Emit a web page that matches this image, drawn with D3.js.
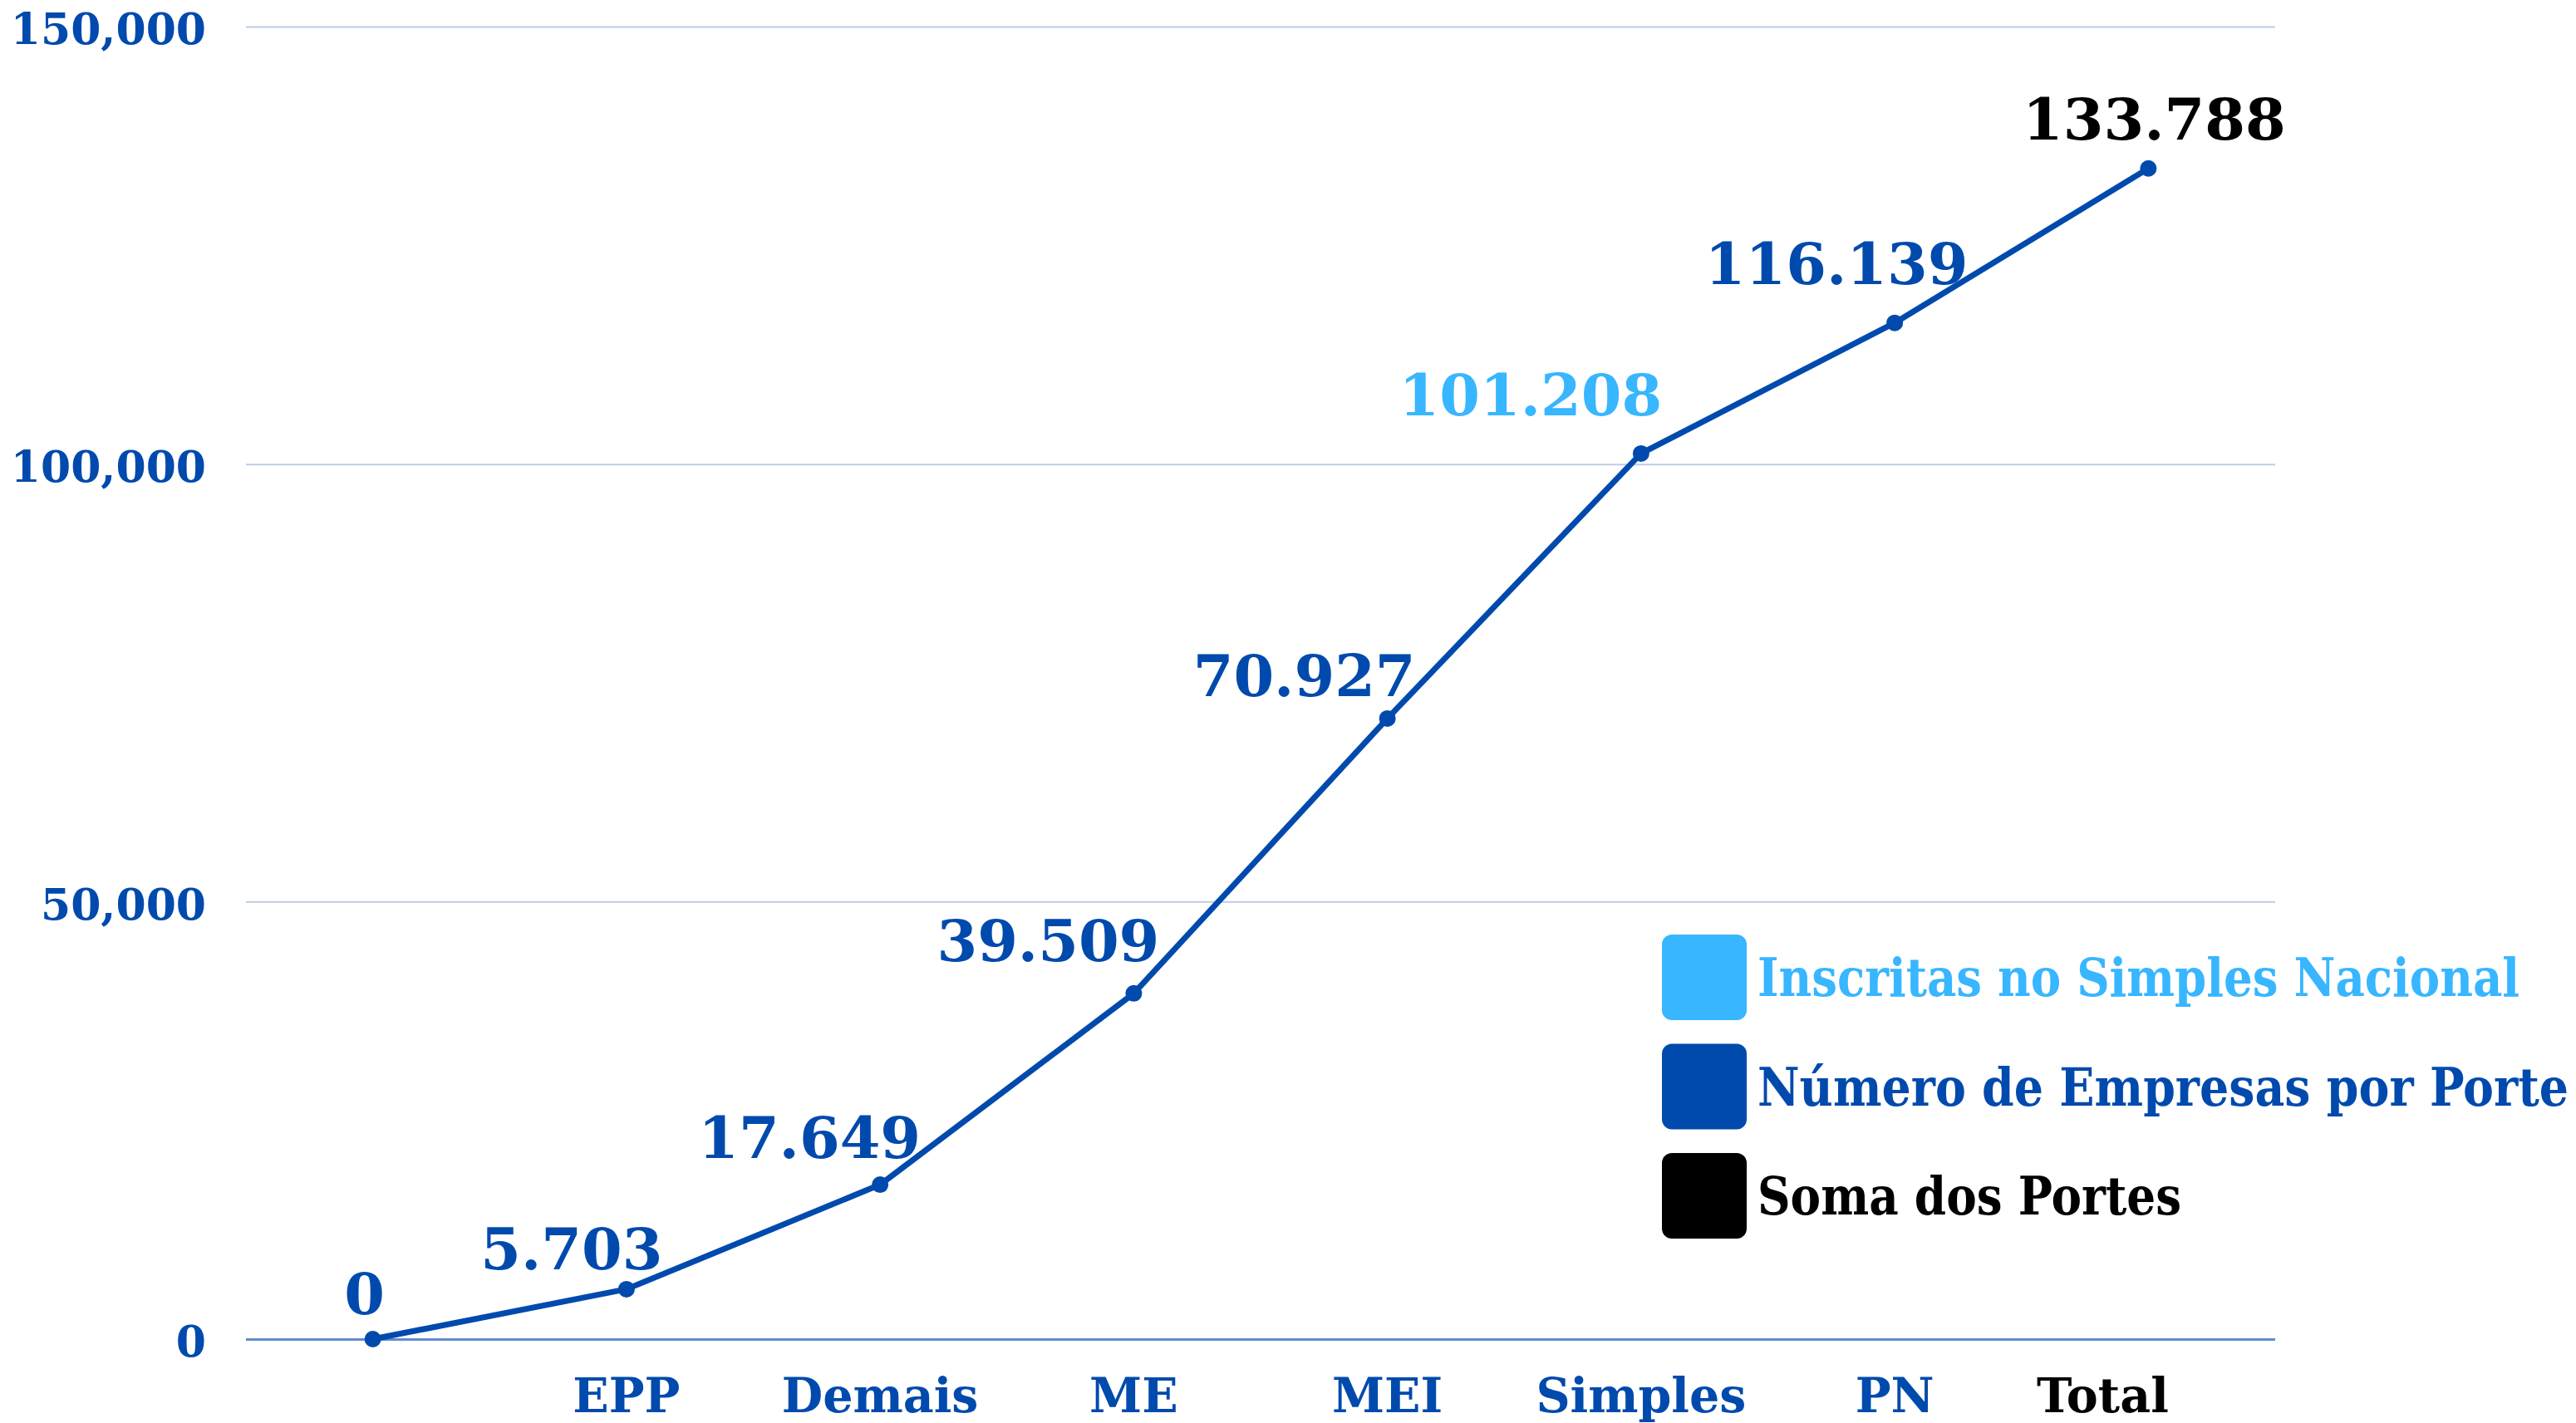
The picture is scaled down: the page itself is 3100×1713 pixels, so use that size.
<!DOCTYPE html>
<html>
<head>
<meta charset="utf-8">
<script src="https://cdn.jsdelivr.net/npm/d3@7"></script>
<style>
  body { margin: 0; background: #fff; }
  svg text { font-family: "DejaVu Serif", serif; font-weight: bold; }
</style>
</head>
<body>
<div id="wrapper"></div>
<script>
// DATA
const categories = ["", "EPP", "Demais", "ME", "MEI", "Simples", "PN", "Total"];
const valueLabels = ["0", "5.703", "17.649", "39.509", "70.927", "101.208", "116.139", "133.788"];
const values = [0, 5703, 17649, 39509, 70927, 101208, 116139, 133788];
const yTicks = [0, 50000, 100000, 150000];
const legendItems = ["Inscritas no Simples Nacional", "Número de Empresas por Porte", "Soma dos Portes"];

// COLOURS
const blue = "#004aad";
const lightBlue = "#38b6ff";
const black = "#000000";
const valueColor = (cat) => (cat === "Simples" ? lightBlue : cat === "Total" ? black : blue);
const axisColor = (cat) => (cat === "Total" ? black : blue);
const legendColors = [lightBlue, blue, black];

// DIMENSIONS
const dimensions = {
  width: 3100,
  height: 1713,
  margin: { top: 32, right: 362, bottom: 101, left: 296 },
};
dimensions.boundedWidth = dimensions.width - dimensions.margin.left - dimensions.margin.right;
dimensions.boundedHeight = dimensions.height - dimensions.margin.top - dimensions.margin.bottom;

const wrapper = d3.select("#wrapper")
  .append("svg")
  .attr("width", dimensions.width)
  .attr("height", dimensions.height);

const bounds = wrapper.append("g")
  .attr("transform", `translate(${dimensions.margin.left},${dimensions.margin.top})`);

// SCALES
const xScale = d3.scaleBand()
  .domain(categories)
  .range([0, dimensions.boundedWidth])
  .padding(0);

const yScale = d3.scaleLinear()
  .domain([0, 150000])
  .range([dimensions.boundedHeight, 0]);

const xPos = (i) => xScale(categories[i]) + xScale.bandwidth() / 2;

// Y AXIS + GRID
const yAxis = bounds.append("g")
  .call(d3.axisLeft(yScale)
    .tickValues(yTicks)
    .tickFormat(d3.format(","))
    .tickSize(-dimensions.boundedWidth)
    .tickPadding(48));
yAxis.select(".domain").remove();
yAxis.selectAll(".tick line")
  .attr("stroke", (d) => (d === 0 ? "#5f8bcb" : "#bccde6"))
  .attr("stroke-width", (d) => (d === 0 ? 3 : 2));
yAxis.selectAll(".tick text")
  .attr("fill", blue)
  .style("font-size", "52px")
  .attr("dy", "0.4em");

// X AXIS
const xAxis = bounds.append("g")
  .attr("transform", `translate(0,${dimensions.boundedHeight})`)
  .call(d3.axisBottom(xScale).tickSize(0).tickPadding(48));
xAxis.select(".domain").remove();
xAxis.selectAll(".tick text")
  .attr("fill", (d) => axisColor(d))
  .attr("dx", (d) => (d === "Total" ? -55 : 0))
  .style("font-size", "57px");

// LINE
const lineGenerator = d3.line()
  .x((d, i) => xPos(i))
  .y((d) => yScale(d));

bounds.append("path")
  .attr("d", lineGenerator(values))
  .attr("fill", "none")
  .attr("stroke", blue)
  .attr("stroke-width", 7)
  .attr("stroke-linejoin", "round");

bounds.selectAll(".dot")
  .data(values)
  .join("circle")
  .attr("class", "dot")
  .attr("cx", (d, i) => xPos(i))
  .attr("cy", (d) => yScale(d))
  .attr("r", 10)
  .attr("fill", blue);

// VALUE LABELS (nudged left of the line, as in the original)
const labelNudge = [[-10, -30], [-66, -24], [-85, -32], [-103, -39], [-100, -27], [-133, -46], [-70, -47], [7, -35]];
bounds.selectAll(".value-label")
  .data(values)
  .join("text")
  .attr("class", "value-label")
  .attr("x", (d, i) => xPos(i) + labelNudge[i][0])
  .attr("y", (d, i) => yScale(d) + labelNudge[i][1])
  .attr("text-anchor", "middle")
  .attr("fill", (d, i) => valueColor(categories[i]))
  .style("font-size", "70px")
  .text((d, i) => valueLabels[i]);

// LEGEND
const legendWidths = [917, 976, 510];
const legend = wrapper.append("g").attr("transform", "translate(2000,1125)");
const legendRow = legend.selectAll("g")
  .data(legendItems)
  .join("g")
  .attr("transform", (d, i) => `translate(0,${i * 131.5})`);
legendRow.append("rect")
  .attr("width", 102)
  .attr("height", 103)
  .attr("rx", 12)
  .attr("fill", (d, i) => legendColors[i]);
legendRow.append("text")
  .attr("x", 115)
  .attr("y", 74)
  .attr("fill", (d, i) => legendColors[i])
  .attr("textLength", (d, i) => legendWidths[i])
  .attr("lengthAdjust", "spacingAndGlyphs")
  .style("font-size", "64px")
  .text((d) => d);
</script>
</body>
</html>
